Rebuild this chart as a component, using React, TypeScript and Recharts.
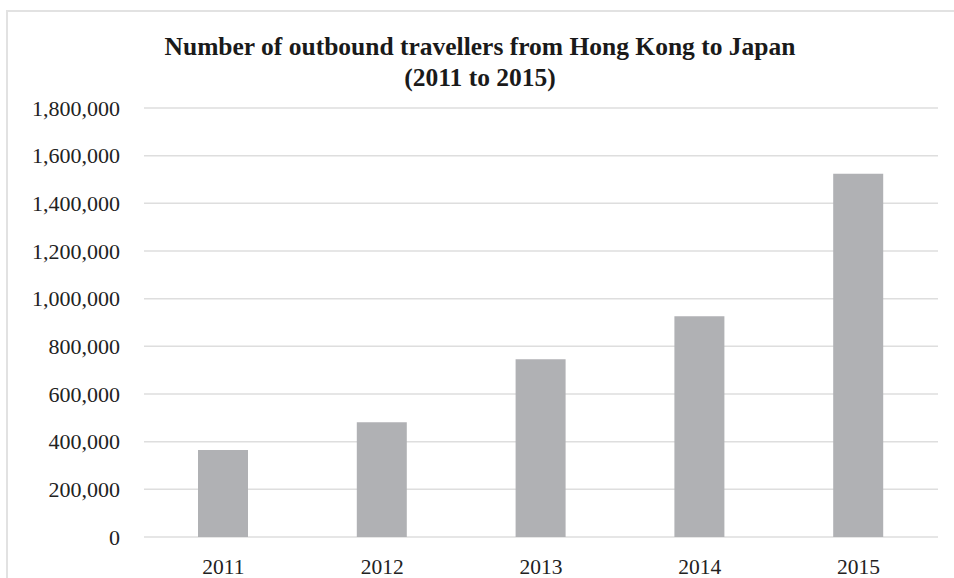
import React from "react";
import { BarChart, Bar, XAxis, YAxis, CartesianGrid } from "recharts";

const years = ["2011", "2012", "2013", "2014", "2015"];
const travellers = [364900, 481700, 745900, 925975, 1524300];
const yTicks = [0, 200000, 400000, 600000, 800000, 1000000, 1200000, 1400000, 1600000, 1800000];

const data = years.map((year, i) => ({ year, travellers: travellers[i] }));

const font = '"Liberation Serif", "Times New Roman", serif';

const App = () => {
  return (
    <div
      style={{
        position: "absolute",
        left: 0,
        top: 0,
        width: 954,
        height: 578,
        overflow: "hidden",
        background: "#ffffff",
        fontFamily: font,
      }}
    >
      <div
        style={{
          position: "absolute",
          left: 6,
          top: 10,
          width: 980,
          height: 620,
          border: "2px solid #e2e2e2",
        }}
      />
      <div
        style={{
          position: "absolute",
          left: 0,
          top: 31,
          width: 960,
          textAlign: "center",
          fontWeight: "bold",
          fontSize: 25.5,
          lineHeight: "31px",
          color: "#1a1a1a",
        }}
      >
        Number of outbound travellers from Hong Kong to Japan
        <br />
        (2011 to 2015)
      </div>
      <div style={{ position: "absolute", left: 0, top: 0 }}>
        <BarChart
          width={954}
          height={578}
          data={data}
          margin={{ top: 108, right: 16, bottom: 0, left: 0 }}
        >
          <CartesianGrid vertical={false} stroke="#dedede" strokeWidth={1.5} />
          <XAxis
            dataKey="year"
            height={41}
            axisLine={false}
            tickLine={false}
            tickMargin={16}
            tick={{ fill: "#222", fontSize: 21.5, fontFamily: font }}
          />
          <YAxis
            width={144}
            domain={[0, 1800000]}
            ticks={yTicks}
            interval={0}
            axisLine={false}
            tickLine={false}
            tickMargin={18}
            tickFormatter={(v: number) => v.toLocaleString("en-US")}
            tick={{ fill: "#222", fontSize: 22, fontFamily: font }}
          />
          <Bar dataKey="travellers" fill="#b0b1b4" barSize={50} isAnimationActive={false} />
        </BarChart>
      </div>
    </div>
  );
};

export default App;
